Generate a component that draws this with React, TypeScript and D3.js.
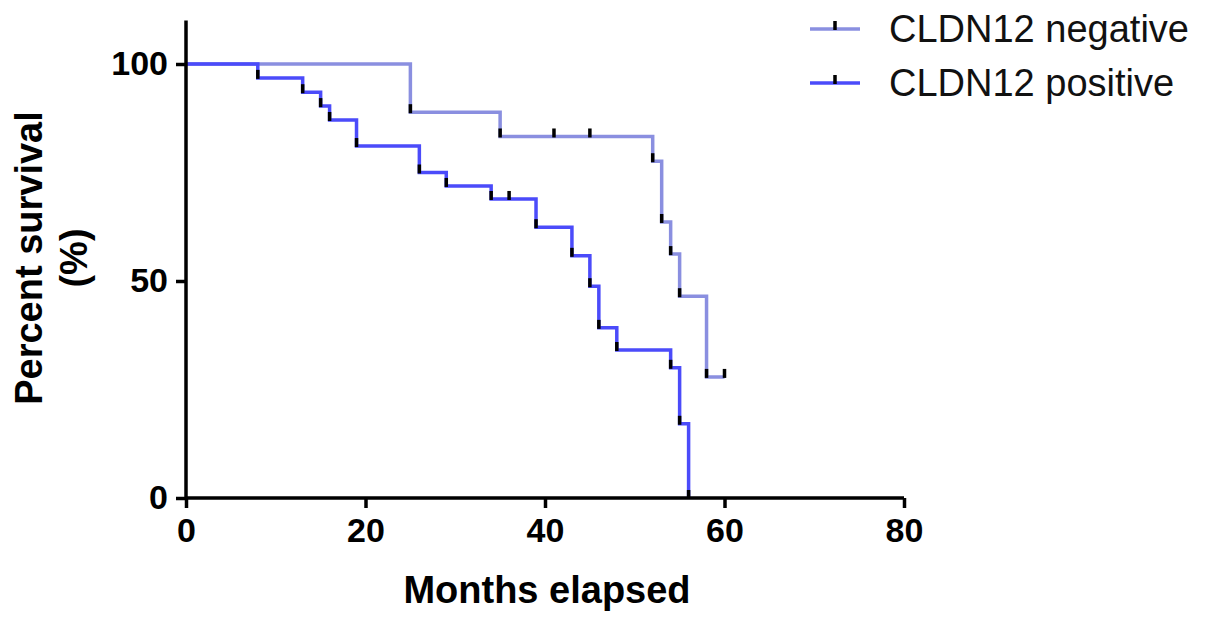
import React, { useEffect, useRef } from 'react';
import * as d3 from 'd3';

// Kaplan-Meier steps
const negTimes = [0, 25, 35, 52, 53, 54, 55, 58, 60];
const negSurv = [100, 88.9, 83.3, 77.6, 63.6, 56.2, 46.5, 27.9, 27.9];
const negCensor = [25, 35, 41, 45, 52, 53, 54, 55, 58, 60];

const posTimes = [0, 8, 13, 15, 16, 19, 26, 29, 34, 39, 43, 45, 46, 48, 54, 55, 56];
const posSurv = [100, 96.8, 93.5, 90.3, 87.1, 81.1, 75.0, 71.9, 68.9, 62.4, 55.8, 48.8, 39.2, 34.1, 30.0, 17.1, 0];
const posCensor = [8, 13, 15, 16, 19, 26, 29, 34, 36, 39, 43, 45, 46, 48, 54, 55, 56];

const xTicks = [0, 20, 40, 60, 80];
const yTicks = [0, 50, 100];

const seriesNames = ['CLDN12 negative', 'CLDN12 positive'];
const seriesColors = ['#8a8fe0', '#4b4bfa'];

const App = () => {
    const svgRef = useRef<SVGSVGElement>(null);

    useEffect(() => {
        if (!svgRef.current) return;
        const svg = d3.select(svgRef.current);
        svg.selectAll("*").remove();

        const font = "'Liberation Sans', Arial, sans-serif";

        const x = d3.scaleLinear().domain([0, 80]).range([186, 904]);
        const y = d3.scaleLinear().domain([0, 110]).range([498, 20.6]);

        const series = [
            { times: negTimes, surv: negSurv, censor: negCensor },
            { times: posTimes, surv: posSurv, censor: posCensor },
        ];

        const line = d3.line<[number, number]>()
            .x(d => x(d[0]))
            .y(d => y(d[1]))
            .curve(d3.curveStepAfter);

        // value of a step curve at time t
        const survAt = (times: number[], surv: number[], t: number) => {
            const i = d3.bisectRight(times, t) - 1;
            return surv[Math.max(0, i)];
        };

        // curves: positive drawn last so it sits on top
        series.forEach((s, si) => {
            const pts = s.times.map((t, i) => [t, s.surv[i]] as [number, number]);
            svg.append("path")
                .attr("d", line(pts))
                .attr("fill", "none")
                .attr("stroke", seriesColors[si])
                .attr("stroke-width", 3.5);
        });

        // censor ticks
        series.forEach(s => {
            svg.append("g")
                .selectAll("rect")
                .data(s.censor)
                .join("rect")
                .attr("x", d => x(d) - 1.75)
                .attr("y", d => y(survAt(s.times, s.surv, d)) - 8)
                .attr("width", 3.5)
                .attr("height", 9)
                .attr("fill", "#000");
        });

        // x axis
        const xAxis = svg.append("g")
            .attr("transform", `translate(0,${y(0)})`)
            .call(d3.axisBottom(x).tickValues(xTicks).tickSize(10).tickPadding(10).tickFormat(d3.format("d")));
        // y axis
        const yAxis = svg.append("g")
            .attr("transform", `translate(${x(0)},0)`)
            .call(d3.axisLeft(y).tickValues(yTicks).tickSize(10).tickPadding(8).tickFormat(d3.format("d")));

        [xAxis, yAxis].forEach(a => {
            a.select(".domain").attr("stroke", "#000").attr("stroke-width", 3.5);
            a.selectAll(".tick line").attr("stroke", "#000").attr("stroke-width", 3.5);
            a.selectAll(".tick text")
                .attr("fill", "#000")
                .attr("font-family", font)
                .attr("font-weight", "bold")
                .attr("font-size", 34);
        });
        xAxis.select(".domain").attr("d", `M${x(0)},0H${x(80)}`);
        yAxis.select(".domain").attr("d", `M0,${y(110)}V${y(0)}`);

        // axis titles
        svg.append("text")
            .attr("x", 547)
            .attr("y", 603)
            .attr("text-anchor", "middle")
            .attr("font-family", font)
            .attr("font-weight", "bold")
            .attr("font-size", 38)
            .text("Months elapsed");

        const yTitle = svg.append("text")
            .attr("transform", "translate(0,258) rotate(-90)")
            .attr("text-anchor", "middle")
            .attr("font-family", font)
            .attr("font-weight", "bold")
            .attr("font-size", 38);
        yTitle.append("tspan").attr("x", 0).attr("y", 42).text("Percent survival");
        yTitle.append("tspan").attr("x", 0).attr("y", 87).text("(%)");

        // legend
        const legend = svg.append("g")
            .selectAll("g")
            .data(seriesNames)
            .join("g")
            .attr("transform", (d, i) => `translate(0,${29 + i * 54})`);

        legend.append("line")
            .attr("x1", 810)
            .attr("x2", 860)
            .attr("stroke", (d, i) => seriesColors[i])
            .attr("stroke-width", 3.5);
        legend.append("rect")
            .attr("x", 833.25)
            .attr("y", -8)
            .attr("width", 3.5)
            .attr("height", 9)
            .attr("fill", "#000");
        legend.append("text")
            .attr("x", 889)
            .attr("y", 13)
            .attr("font-family", font)
            .attr("font-size", 38)
            .attr("fill", "#111")
            .text(d => d);
    }, []);

    return (
        <svg ref={svgRef} width={1205} height={628}
            style={{ position: 'absolute', left: 0, top: 0, background: '#fff', display: 'block' }} />
    );
};

export default App;
